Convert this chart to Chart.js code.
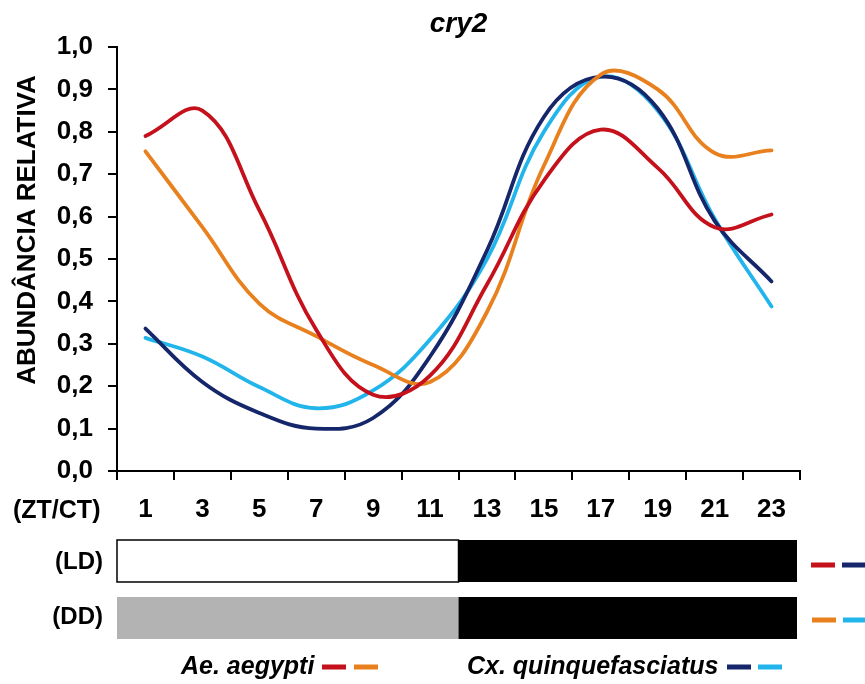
<!DOCTYPE html>
<html>
<head>
<meta charset="utf-8">
<script src="https://cdn.jsdelivr.net/npm/chart.js@4.4.1/dist/chart.umd.min.js"></script>
<style>
    html, body { margin: 0; padding: 0; background: #fff; }
    #wrap { width: 865px; height: 684px; }
</style>
</head>
<body>
<div id="wrap"><canvas id="cry2-chart" width="865" height="684"></canvas></div>
<script>
// ── cry2 relative abundance, Ae. aegypti vs Cx. quinquefasciatus ─────
const ztLabels = ['1', '3', '5', '7', '9', '11', '13', '15', '17', '19', '21', '23'];

const aeLD = [0.79, 0.85, 0.615, 0.333, 0.18, 0.225, 0.44, 0.685, 0.805, 0.715, 0.575, 0.605];
const aeDD = [0.754, 0.575, 0.395, 0.318, 0.25, 0.21, 0.375, 0.72, 0.935, 0.90, 0.75, 0.756];
const cxLD = [0.336, 0.21, 0.137, 0.10, 0.125, 0.27, 0.52, 0.835, 0.93, 0.855, 0.59, 0.447];
const cxDD = [0.314, 0.27, 0.198, 0.148, 0.19, 0.31, 0.50, 0.80, 0.93, 0.85, 0.595, 0.388];

const colors = {
    aeLD: '#c4111b',
    aeDD: '#e8801e',
    cxLD: '#15276a',
    cxDD: '#22b5ec'
};

const FONT = 'Liberation Sans, Arial, sans-serif';

function series(label, data, color) {
    return {
        label,
        data,
        borderColor: color,
        backgroundColor: color,
        borderWidth: 3.8,
        borderCapStyle: 'round',
        pointRadius: 0,
        tension: 0.4,
        fill: false,
        clip: false
    };
}

// title, axis caption, ZT/CT caption, light/dark bars and the species key
const extrasPlugin = {
    id: 'extras',
    afterDraw(chart) {
        const ctx = chart.ctx;
        const x = chart.scales.x;
        const left = x.left;
        const right = x.right - 3;
        const mid = (x.getPixelForValue(5) + x.getPixelForValue(6)) / 2;

        ctx.save();
        ctx.fillStyle = '#000';
        ctx.textBaseline = 'middle';

        ctx.font = `italic bold 28px ${FONT}`;
        ctx.textAlign = 'center';
        ctx.fillText('cry2', (chart.chartArea.left + chart.chartArea.right) / 2, 24);

        ctx.save();
        ctx.translate(28, 230);
        ctx.rotate(-Math.PI / 2);
        ctx.font = `bold 26px ${FONT}`;
        ctx.fillText('ABUNDÂNCIA RELATIVA', 0, 0);
        ctx.restore();

        ctx.font = `bold 25px ${FONT}`;
        ctx.textAlign = 'left';
        ctx.fillText('(ZT/CT)', 13, 511);

        ctx.font = `bold 24px ${FONT}`;
        ctx.textAlign = 'right';
        ctx.fillText('(LD)', 103, 562);
        ctx.fillText('(DD)', 103, 617);

        // LD bar: light then dark
        ctx.fillStyle = '#fff';
        ctx.fillRect(left, 540, mid - left, 42);
        ctx.strokeStyle = '#000';
        ctx.lineWidth = 1.5;
        ctx.strokeRect(left, 540, mid - left, 42);
        ctx.fillStyle = '#000';
        ctx.fillRect(mid, 540, right - mid, 42);

        // DD bar: subjective day (grey) then dark
        ctx.fillStyle = '#b3b3b3';
        ctx.fillRect(left, 597, mid - left, 42);
        ctx.fillStyle = '#000';
        ctx.fillRect(mid, 597, right - mid, 42);

        const dash = (x0, y, c) => {
            ctx.fillStyle = c;
            ctx.fillRect(x0, y - 2.5, 24, 5);
        };
        dash(811, 565, colors.aeLD);
        dash(842, 565, colors.cxLD);
        dash(812, 620, colors.aeDD);
        dash(843, 620, colors.cxDD);

        ctx.font = `italic bold 25px ${FONT}`;
        ctx.textAlign = 'left';
        ctx.fillStyle = '#000';
        ctx.fillText('Ae. aegypti', 181, 667);
        ctx.fillText('Cx. quinquefasciatus', 467, 667);
        dash(322, 667, colors.aeLD);
        dash(354, 667, colors.aeDD);
        dash(727, 667, colors.cxLD);
        dash(758, 667, colors.cxDD);

        ctx.restore();
    }
};

new Chart(document.getElementById('cry2-chart'), {
    type: 'line',
    data: {
        labels: ztLabels,
        datasets: [
            series('Ae. aegypti LD', aeLD, colors.aeLD),
            series('Ae. aegypti DD', aeDD, colors.aeDD),
            series('Cx. quinquefasciatus LD', cxLD, colors.cxLD),
            series('Cx. quinquefasciatus DD', cxDD, colors.cxDD)
        ]
    },
    options: {
        responsive: false,
        animation: false,
        layout: { padding: { top: 47, right: 65, bottom: 0, left: 0 } },
        plugins: {
            legend: { display: false },
            title: { display: false },
            tooltip: { enabled: false }
        },
        scales: {
            x: {
                type: 'category',
                offset: true,
                afterFit: s => { s.height = 213; },
                grid: {
                    offset: true,
                    drawOnChartArea: false,
                    drawTicks: true,
                    tickLength: 9,
                    color: '#000',
                    lineWidth: 2
                },
                border: { display: true, color: '#000', width: 2 },
                ticks: {
                    color: '#000',
                    padding: 14,
                    maxRotation: 0,
                    autoSkip: false,
                    font: { family: FONT, size: 26, weight: 'bold' }
                }
            },
            y: {
                min: 0,
                max: 1,
                afterFit: s => { s.width = 117; },
                grid: {
                    drawOnChartArea: false,
                    drawTicks: true,
                    tickLength: 9,
                    color: '#000',
                    lineWidth: 2
                },
                border: { display: true, color: '#000', width: 2 },
                ticks: {
                    stepSize: 0.1,
                    color: '#000',
                    padding: 15,
                    font: { family: FONT, size: 26, weight: 'bold' },
                    callback: v => v.toFixed(1).replace('.', ',')
                }
            }
        }
    },
    plugins: [extrasPlugin]
});
</script>
</body>
</html>
